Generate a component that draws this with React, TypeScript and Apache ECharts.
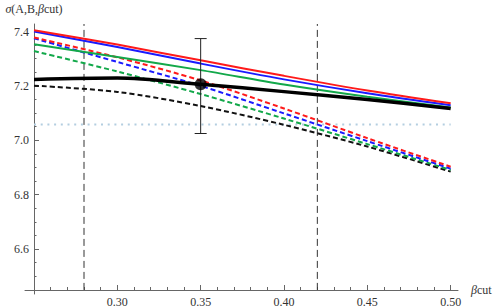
import React, { useEffect, useRef } from "react";
import * as echarts from "echarts";

const xs = [0.25, 0.3, 0.35, 0.4, 0.45, 0.5];

const redSolid = [7.405, 7.352, 7.294, 7.237, 7.183, 7.136];
const blueSolid = [7.4, 7.343, 7.282, 7.224, 7.173, 7.129];
const greenSolid = [7.353, 7.306, 7.258, 7.205, 7.16, 7.121];
const blackSolid = [7.224, 7.229, 7.206, 7.179, 7.15, 7.117];

const redDashed = [7.378, 7.305, 7.22, 7.117, 7.008, 6.903];
const blueDashed = [7.375, 7.288, 7.2, 7.099, 6.997, 6.896];
const greenDashed = [7.328, 7.253, 7.17, 7.08, 6.986, 6.891];
const blackDashed = [7.201, 7.178, 7.126, 7.057, 6.977, 6.885];

const cutLines = [0.28, 0.42];
const refLevel = 7.058;
const refRange = [0.25, 0.5];

const pointX = 0.35;
const pointY = 7.206;
const errLow = 7.025;
const errHigh = 7.374;

const xMajor = [0.3, 0.35, 0.4, 0.45, 0.5];
const xMinor = [0.26, 0.27, 0.28, 0.29, 0.31, 0.32, 0.33, 0.34, 0.36, 0.37, 0.38, 0.39, 0.41, 0.42, 0.43, 0.44, 0.46, 0.47, 0.48, 0.49];
const yMajor = [6.6, 6.8, 7.0, 7.2, 7.4];
const yMinor = [6.45, 6.5, 6.55, 6.65, 6.7, 6.75, 6.85, 6.9, 6.95, 7.05, 7.1, 7.15, 7.25, 7.3, 7.35];

const X_MIN = 0.2446;
const X_MAX = 0.5044;
const Y_MIN = 6.435;
const Y_MAX = 7.4276;

const FONT = "'Liberation Serif', 'DejaVu Serif', serif";
const RED = "#ff1a1a";
const BLUE = "#1a1aff";
const GREEN = "#12a84a";

const pairs = (ys: number[]) => xs.map((x, i) => [x, ys[i]]);

export default function App() {
  const ref = useRef<HTMLDivElement>(null);
  useEffect(() => {
    if (!ref.current) return;
    const chart = echarts.init(ref.current, null, { renderer: "svg" });
    const axisColor = "#666";
    const labelColor = "#333";
    const lineSeries = (data: number[], color: string, width: number, dashed: boolean, z: number) => ({
      type: "line",
      data: pairs(data),
      smooth: 0.3,
      showSymbol: false,
      symbol: "none",
      z,
      lineStyle: { color, width, type: dashed ? [5, 3] : "solid", cap: "butt" },
    });
    const nameStyle = {
      fontFamily: FONT,
      fontSize: 12,
      color: labelColor,
      rich: {
        n: { fontFamily: FONT, fontSize: 12, color: labelColor },
        i: { fontStyle: "italic", fontFamily: FONT, fontSize: 12, color: labelColor },
      },
    };
    chart.setOption({
      animation: false,
      textStyle: { fontFamily: FONT },
      grid: { left: 25, right: 40, top: 24, bottom: 14 },
      xAxis: [
        {
          type: "value",
          min: X_MIN,
          max: X_MAX,
          offset: -4,
          splitLine: { show: false },
          axisLine: { show: true, onZero: false, lineStyle: { color: axisColor, width: 1 } },
          axisTick: { show: true, inside: true, length: 5, customValues: xMajor, lineStyle: { color: axisColor } },
          axisLabel: {
            customValues: xMajor,
            formatter: (v: number) => v.toFixed(2),
            fontFamily: FONT,
            fontSize: 12,
            color: labelColor,
            margin: 6,
          },
          name: "{i|β}{n|cut}",
          nameLocation: "end",
          nameGap: 13,
          nameTextStyle: nameStyle,
        },
        {
          type: "value",
          min: X_MIN,
          max: X_MAX,
          offset: -4,
          position: "bottom",
          splitLine: { show: false },
          axisLine: { show: false, onZero: false },
          axisTick: { show: true, inside: true, length: 3, customValues: xMinor, lineStyle: { color: axisColor } },
          axisLabel: { show: false },
        },
      ],
      yAxis: [
        {
          type: "value",
          min: Y_MIN,
          max: Y_MAX,
          offset: -9,
          splitLine: { show: false },
          axisLine: { show: true, onZero: false, lineStyle: { color: axisColor, width: 1 } },
          axisTick: { show: true, inside: true, length: 5, customValues: yMajor, lineStyle: { color: axisColor } },
          axisLabel: {
            customValues: yMajor,
            formatter: (v: number) => v.toFixed(1),
            fontFamily: FONT,
            fontSize: 12,
            color: labelColor,
            margin: 5,
          },
          name: "{i|σ}{n|(A,B,}{i|β}{n|cut)}",
          nameLocation: "end",
          nameGap: 9,
          nameTextStyle: nameStyle,
        },
        {
          type: "value",
          min: Y_MIN,
          max: Y_MAX,
          offset: -9,
          position: "left",
          splitLine: { show: false },
          axisLine: { show: false, onZero: false },
          axisTick: { show: true, inside: true, length: 2.5, customValues: yMinor, lineStyle: { color: axisColor } },
          axisLabel: { show: false },
        },
      ],
      series: [
        ...cutLines.map((c) => ({
          type: "line",
          data: [
            [c, 6.45],
            [c, Y_MAX],
          ],
          showSymbol: false,
          symbol: "none",
          z: 1,
          lineStyle: { color: "#333", width: 1, type: [7, 4] },
        })),
        {
          type: "line",
          data: refRange.map((x) => [x, refLevel]),
          showSymbol: false,
          symbol: "none",
          z: 1,
          lineStyle: { color: "#b3cee0", width: 2, type: [2, 4.7] },
        },
        lineSeries(blackDashed, "#111", 2, true, 2),
        lineSeries(greenDashed, GREEN, 2, true, 2),
        lineSeries(blueDashed, BLUE, 2, true, 2),
        lineSeries(redDashed, RED, 2, true, 2),
        lineSeries(greenSolid, GREEN, 2, false, 3),
        lineSeries(blueSolid, BLUE, 2, false, 3),
        lineSeries(redSolid, RED, 2, false, 3),
        lineSeries(blackSolid, "#000", 3.5, false, 4),
        {
          type: "custom",
          z: 5,
          data: [[pointX, pointY, errLow, errHigh]],
          encode: { x: 0, y: [2, 3] },
          renderItem: (params: any, api: any) => {
            const x = api.value(0);
            const lo = api.coord([x, api.value(2)]);
            const hi = api.coord([x, api.value(3)]);
            const style = { stroke: "#222", lineWidth: 1 };
            return {
              type: "group",
              children: [
                { type: "line", shape: { x1: lo[0], y1: lo[1], x2: hi[0], y2: hi[1] }, style },
                { type: "line", shape: { x1: lo[0] - 6, y1: lo[1], x2: lo[0] + 6, y2: lo[1] }, style },
                { type: "line", shape: { x1: hi[0] - 6, y1: hi[1], x2: hi[0] + 6, y2: hi[1] }, style },
              ],
            };
          },
        },
        {
          type: "scatter",
          z: 6,
          data: [[pointX, pointY]],
          symbol: "circle",
          symbolSize: 12,
          itemStyle: { color: "#000" },
        },
      ],
    });
    return () => chart.dispose();
  }, []);
  return (
    <div
      ref={ref}
      style={{ position: "fixed", left: 0, top: 0, width: 498, height: 308, background: "#fff" }}
    />
  );
}
